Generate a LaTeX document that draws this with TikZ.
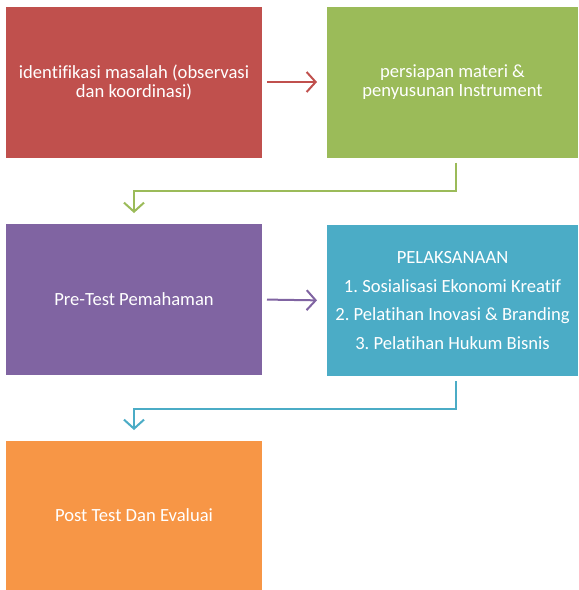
\documentclass[tikz,border=0pt]{standalone}
\usepackage{fontspec}
\setmainfont[Ligatures=NoCommon]{Carlito}
\usetikzlibrary{arrows.meta}
\definecolor{cred}{HTML}{C0504D}
\definecolor{cgreen}{HTML}{9BBB59}
\definecolor{cpurple}{HTML}{8064A2}
\definecolor{cteal}{HTML}{4BACC6}
\definecolor{corange}{HTML}{F79646}
\tikzset{
  boxnode/.style={minimum width=256pt, minimum height=151pt, inner sep=0pt, outer sep=0pt,
    text=white, align=center, font=\fontsize{18.6}{19}\selectfont},
  flowarrow/.style={line width=2pt, -{Straight Barb[length=9pt,width=20pt,line width=2pt]}}
}
\begin{document}
\begin{tikzpicture}[x=1pt,y=-1pt]
\useasboundingbox (0,0) rectangle (579,590);
\node[boxnode, fill=cred] (a) at (134,82) {identifikasi masalah (observasi\\dan koordinasi)};
\node[boxnode, fill=cgreen, minimum width=251pt] (b) at (452.5,82) {persiapan materi \&\\penyusunan Instrument};
\node[boxnode, fill=cpurple] (c) at (134,299.5) {Pre-Test Pemahaman};
\node[boxnode, fill=cteal, minimum width=251pt, font=\fontsize{18.6}{28.8}\selectfont] (d) at (452.5,300.5) {PELAKSANAAN\\1.\ Sosialisasi Ekonomi Kreatif\\2.\ Pelatihan Inovasi \& Branding\\3.\ Pelatihan Hukum Bisnis};
\node[boxnode, fill=corange, minimum height=149pt] (e) at (134,515.5) {Post Test Dan Evaluai};
\draw[flowarrow, cred, shorten <=5pt, shorten >=10pt] (a.east) -- (b.west);
\draw[flowarrow, cpurple, shorten <=5pt, shorten >=10pt] (c.east) -- (d.west);
\draw[flowarrow, cgreen, shorten <=5pt, shorten >=11pt] ([xshift=3pt]b.south) -- ++(0,33) -| (c.north);
\draw[flowarrow, cteal, shorten <=5pt, shorten >=11pt] ([xshift=3pt]d.south) -- ++(0,33) -| (e.north);
\end{tikzpicture}
\end{document}
